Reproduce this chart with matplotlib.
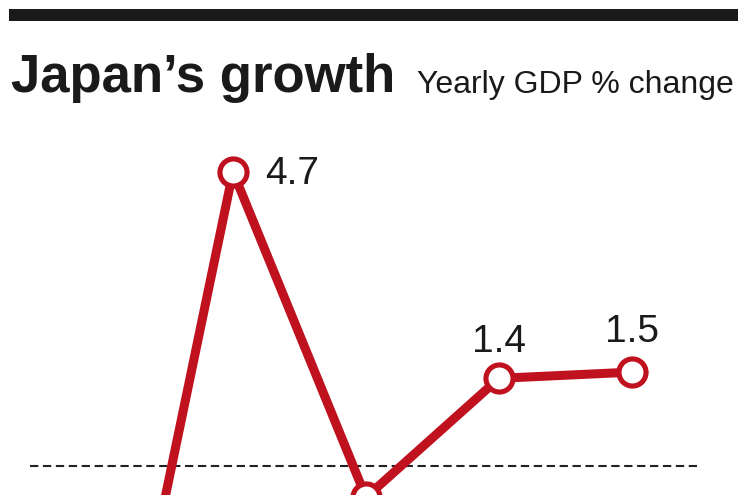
import matplotlib
matplotlib.use("Agg")
import matplotlib.pyplot as plt
from matplotlib.patches import Rectangle

# ---- data ----
years = [2009, 2010, 2011, 2012, 2013]
gdp_change = [-5.5, 4.7, -0.5, 1.4, 1.5]
labels = ["-5.5", "4.7", "-0.5", "1.4", "1.5"]
title = "Japan\u2019s growth"
subtitle = "Yearly GDP % change"

# ---- style ----
RED = "#c0111f"
W, H, DPI = 750, 495, 100
label_offsets_px = [(0, 28), (32, -12), (0, 28), (0, 26), (0, 30)]
label_ha = ["center", "left", "center", "center", "center"]

fig = plt.figure(figsize=(W / DPI, H / DPI), dpi=DPI)
fig.patch.set_facecolor("white")

ax = fig.add_axes([0, 0, 1, 1])
ax.set_axis_off()
# pixel mapping: x_px = 100 + (year-2009)*133 ; y_px(top) = 466 - v*62.6
px_per_year = 133.0
px_per_unit = 62.6
ax.set_xlim(2009 - 100 / px_per_year, 2009 + (W - 100) / px_per_year)
ax.set_ylim(-(H - 466) / px_per_unit, 466 / px_per_unit)

ax.axhline(0, xmin=30 / W, xmax=697 / W, color="#222222", lw=1.5,
           linestyle=(0, (4, 2.2)), zorder=1)

ax.plot(years, gdp_change, color=RED, lw=6.5, zorder=2,
        marker="o", markersize=19.5, markerfacecolor="white",
        markeredgecolor=RED, markeredgewidth=3.7, clip_on=False,
        solid_joinstyle="miter")

for x, v, lab, off, ha in zip(years, gdp_change, labels, label_offsets_px, label_ha):
    ax.annotate(lab, (x, v), xytext=(off[0] * 72 / DPI, off[1] * 72 / DPI),
                textcoords="offset points", ha=ha, va="baseline",
                fontsize=28, color="#1a1a1a", family="Liberation Sans",
                annotation_clip=True, zorder=3)

# top black bar
fig.add_artist(Rectangle((9 / W, 1 - 21 / H), (738 - 9) / W, 12 / H,
                         transform=fig.transFigure, facecolor="#1a1a1a",
                         edgecolor="none"))

fig.text(11 / W, 1 - 92 / H, title, fontsize=38, fontweight="bold",
         family="Liberation Sans", color="#1a1a1a", ha="left", va="baseline")
fig.text(417 / W, 1 - 93 / H, subtitle, fontsize=23,
         family="Liberation Sans", color="#1a1a1a", ha="left", va="baseline")

fig.savefig("out.png", dpi=DPI, facecolor="white")
